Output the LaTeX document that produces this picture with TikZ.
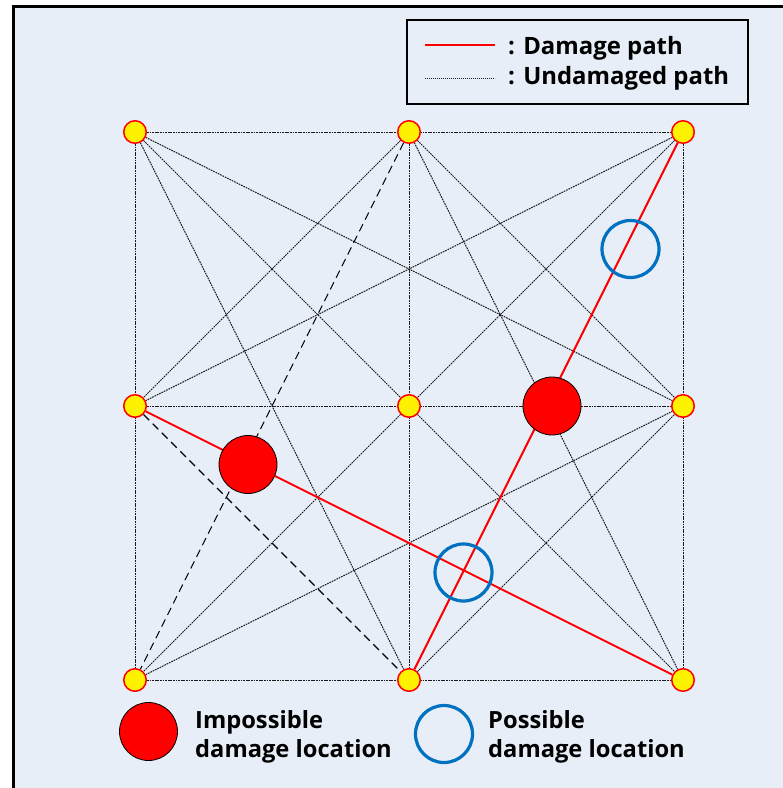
\documentclass[tikz,border=0pt]{standalone}
\usepackage{fontspec}
\setmainfont{Open Sans}
\definecolor{panel}{RGB}{232,238,248}
\definecolor{ringblue}{RGB}{0,112,192}
\pgfdeclarelayer{back}
\pgfdeclarelayer{paths}
\pgfsetlayers{back,paths,main}
\begin{document}
\begin{tikzpicture}[x=1pt,y=-1pt,
  sensor/.style={circle,fill=yellow,draw=red,line width=1.5pt,minimum size=22.5pt,inner sep=0pt},
  fine/.style={draw=black!90,line width=1pt,dash pattern=on 1.7pt off 0.9pt},
  coarse/.style={draw=black,line width=1.1pt,dash pattern=on 8pt off 5pt},
  damage/.style={draw=red,line width=2pt},
  impossible/.style={circle,fill=red,draw=black,line width=0.8pt,minimum size=58pt,inner sep=0pt},
  possible/.style={circle,draw=ringblue,line width=3.2pt,minimum size=57pt,inner sep=0pt},
  keytext/.style={font=\bfseries\fontsize{23.9}{28}\selectfont,inner sep=0pt,anchor=base west},
  marktext/.style={font=\bfseries\fontsize{23.7}{29}\selectfont,inner sep=0pt,anchor=base west}
]
\useasboundingbox (0,0) rectangle (783,788);

% panel with its frame
\begin{pgfonlayer}{back}
  \fill[white] (0,0) rectangle (783,788);
  \clip (0,0) rectangle (783,788);
  \draw[fill=panel,line width=3pt] (13.5,6.2) rectangle (800,805);
\end{pgfonlayer}

% sensors
\node[sensor] (tl) at (135,132) {};
\node[sensor] (tm) at (409,132) {};
\node[sensor] (tr) at (683,132) {};
\node[sensor] (ml) at (135,406) {};
\node[sensor] (c)  at (409,406) {};
\node[sensor] (mr) at (683,406) {};
\node[sensor] (bl) at (135,680) {};
\node[sensor] (bm) at (409,680) {};
\node[sensor] (br) at (683,680) {};

% damage location markers
\node[impossible] (imp1) at (248,464.5) {};
\node[impossible] (imp2) at (552,406) {};
\node[possible] (pos1) at (630.5,249) {};
\node[possible] (pos2) at (463.5,572.5) {};

% sensing paths
\begin{pgfonlayer}{paths}
  \draw[fine] (tl) -- (tr);
  \draw[fine] (ml) -- (mr);
  \draw[fine] (bl) -- (br);
  \draw[fine] (tl) -- (bl);
  \draw[fine] (tm) -- (bm);
  \draw[fine] (tr) -- (br);
  \draw[fine] (tl) -- (br);
  \draw[fine] (tr) -- (bl);
  \draw[fine] (tl) -- (mr);
  \draw[fine] (tl) -- (bm);
  \draw[fine] (tm) -- (br);
  \draw[fine] (tr) -- (ml);
  \draw[fine] (bl) -- (mr);
  \draw[fine] (tm) -- (ml);
  \draw[fine] (tm) -- (mr);
  \draw[fine] (bm) -- (mr);
  \draw[coarse] (tm) -- (bl);
  \draw[coarse] (ml) -- (bm);
  \draw[damage] (tr) -- (bm);
  \draw[damage] (ml) -- (br);
\end{pgfonlayer}

% path legend
\node[draw=black,line width=1.5pt,minimum width=341pt,minimum height=84pt,inner sep=0pt,anchor=north west] (keybox) at (406,19) {};
\coordinate (ka) at (425,45);
\coordinate (kb) at (495,45);
\coordinate (kc) at (425,78);
\coordinate (kd) at (495,78);
\draw[damage,line width=2.5pt] (ka) -- (kb);
\draw[fine,line width=0.8pt,dash pattern=on 1.2pt off 0.8pt] (kc) -- (kd);
\node[keytext] (k1) at (508,54) {: Damage path};
\node[keytext] (k2) at (508,84) {: Undamaged path};

% marker legend
\node[impossible] (legimp) at (148.5,731.5) {};
\node[possible] (legpos) at (444,734) {};
\node[marktext] (t1) at (195,728) {Impossible};
\node[marktext] (t2) at (195,757) {damage location};
\node[marktext] (t3) at (488,728) {Possible};
\node[marktext] (t4) at (488,757) {damage location};
\end{tikzpicture}
\end{document}
